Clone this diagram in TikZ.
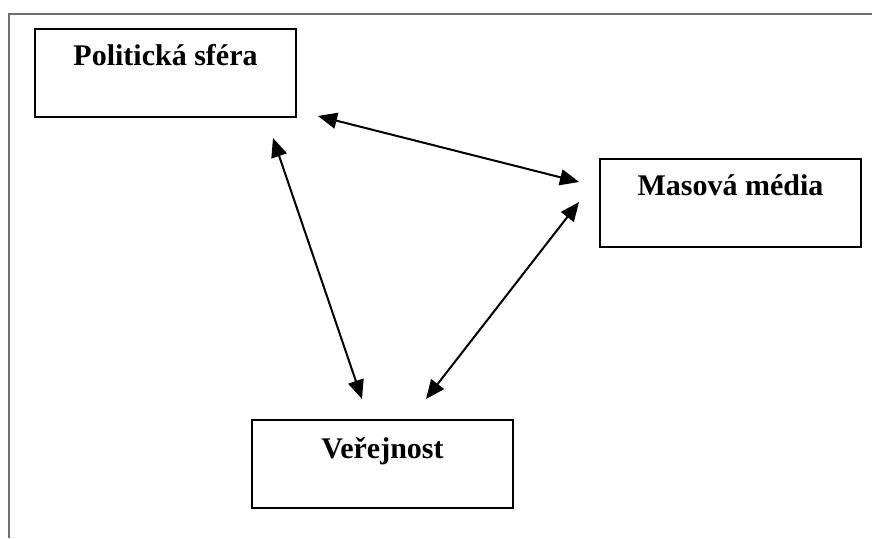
\documentclass[tikz,border=0pt]{standalone}
\usepackage{fontspec}
\setmainfont{Liberation Serif}
\usetikzlibrary{arrows.meta}
\definecolor{framegray}{HTML}{6E6E6E}
\tikzset{
  box/.style={draw=black, line width=2.4pt, fill=white, rectangle,
              minimum width=261pt, minimum height=88pt, inner sep=0pt},
  boxtext/.style={anchor=base, inner sep=0pt,
              font=\fontsize{30}{36}\selectfont\bfseries},
  link/.style={line width=2pt, {Triangle[length=19pt,width=16pt]}-{Triangle[length=19pt,width=16pt]}},
  frameline/.style={draw=framegray, line width=1.8pt}
}
\begin{document}
\begin{tikzpicture}[x=1pt,y=-1pt]
  \useasboundingbox (0,0) rectangle (872,538);
  % outer frame (left and top edges)
  \coordinate (fbl) at (9,538);
  \coordinate (ftl) at (9,14);
  \coordinate (ftr) at (872,14);
  \draw[frameline] (fbl) -- (ftl) -- (ftr);

  % the three boxes
  \node[box] (pol) at (165.5,73) {};
  \node[box] (med) at (730.5,203) {};
  \node[box] (ver) at (382.5,464) {};

  \node[boxtext] (poltext) at ([yshift=-38pt]pol.north) {Politická sféra};
  \node[boxtext] (medtext) at ([yshift=-38pt]med.north) {Masová média};
  \node[boxtext] (vertext) at ([yshift=-40pt]ver.north) {Veřejnost};

  % arrow end points
  \coordinate (pm1) at (318,116);
  \coordinate (pm2) at (579,182);
  \coordinate (pv1) at (273,138);
  \coordinate (pv2) at (362,399);
  \coordinate (mv1) at (579,202);
  \coordinate (mv2) at (426,399);

  \draw[link] (pm1) -- (pm2);
  \draw[link] (pv1) -- (pv2);
  \draw[link] (mv1) -- (mv2);
\end{tikzpicture}
\end{document}
